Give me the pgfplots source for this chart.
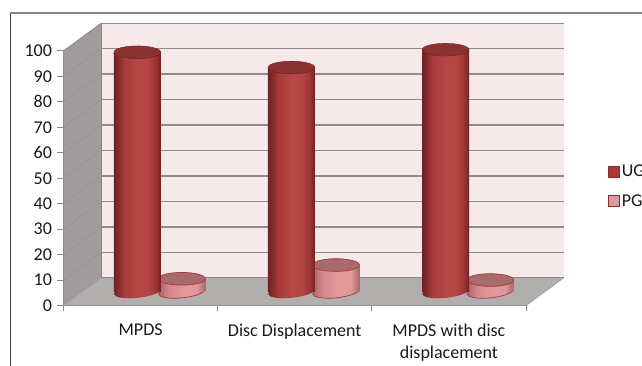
\documentclass[border=0pt]{standalone}
\usepackage{fontspec}
\setmainfont{Carlito}
\usepackage{pgfplots}
\pgfplotsset{compat=1.18}
\definecolor{gridgray}{HTML}{8F8C8C}
\definecolor{axisgray}{HTML}{8A8888}
\definecolor{wallback}{HTML}{F5E9E9}
\definecolor{wallside}{HTML}{A09C9C}
\definecolor{floorgray}{HTML}{B3AEAE}
\definecolor{ugedge}{HTML}{8E2A2A}
\definecolor{ugtop}{HTML}{8A3231}
\definecolor{pgedge}{HTML}{A8383A}
\definecolor{pgtop}{HTML}{A96A6B}
\definecolor{ugA}{HTML}{6F2020}
\definecolor{ugB}{HTML}{A83A3A}
\definecolor{ugC}{HTML}{B54846}
\definecolor{ugD}{HTML}{B34443}
\definecolor{ugE}{HTML}{9A3433}
\definecolor{pgA}{HTML}{A86265}
\definecolor{pgB}{HTML}{D18A8D}
\definecolor{pgC}{HTML}{E3999C}
\definecolor{pgD}{HTML}{E0989B}
\definecolor{pgE}{HTML}{A86466}
\definecolor{legUG}{HTML}{AB3A3A}
\definecolor{legPG}{HTML}{D99C9E}
\pgfdeclarehorizontalshading{ugcyl}{100bp}{
  color(0bp)=(ugA); color(25bp)=(ugA);
  color(36bp)=(ugB); color(50bp)=(ugC);
  color(62bp)=(ugD); color(70bp)=(ugE); color(75bp)=(ugA); color(100bp)=(ugA)}
\pgfdeclarehorizontalshading{pgcyl}{100bp}{
  color(0bp)=(pgA); color(25bp)=(pgA);
  color(36bp)=(pgB); color(52bp)=(pgC);
  color(66bp)=(pgD); color(75bp)=(pgE); color(100bp)=(pgE)}
% shaded lower ends of the cylinders, tilted like their tops
\pgfdeclareplotmark{ugbase}{%
  \pgfpathellipse{\pgfpointorigin}{\pgfqpoint{23.37pt}{2.46pt}}{\pgfqpoint{-0.66pt}{6.3pt}}%
  \pgfshadepath{ugcyl}{0}%
  \pgfusepath{discard}}
\pgfdeclareplotmark{pgbase}{%
  \pgfpathellipse{\pgfpointorigin}{\pgfqpoint{23.37pt}{2.46pt}}{\pgfqpoint{-0.66pt}{6.3pt}}%
  \pgfshadepath{pgcyl}{0}%
  \pgfusepath{stroke}}
\pgfplotsset{
  cyl end/.style={only marks, forget plot, mark=*, mark size=23.5pt},
  cyl body/.style={forget plot, ybar, bar width=47pt, bar shift=0pt, draw=none},
  side wall/.style={forget plot, draw=none},
  pg group/.style={xshift=41.3pt, yshift=14pt},
  ug group/.style={xshift=-3.3pt, yshift=14pt},
}
\begin{document}
\begin{tikzpicture}[x=1pt,y=1pt]
\path[use as bounding box] (0,0) rectangle (642,366);
% chart frame
\draw[line width=0.8pt, black!75] (10,353) -- (10,0);
\draw[line width=1.6pt, black!48] (9.6,353) -- (642,353);
\begin{axis}[
  at={(63.5pt,60.5pt)}, anchor=origin,
  scale only axis, width=462.5pt, height=254.5pt,
  xmin=0, xmax=3, ymin=0, ymax=100,
  clip=false, clip mode=individual,
  axis line style={axisgray, line width=1pt},
  axis x line*=bottom, axis y line*=left,
  xtick={0,1,2,3}, xticklabels={},
  extra x ticks={0.5,1.5,2.5},
  extra x tick labels={MPDS,Disc Displacement,{MPDS with disc\\[1pt]displacement}},
  extra x tick style={major tick length=0pt,
    tick label style={align=center, anchor=north, yshift=-14.5pt}},
  ytick={0,10,...,100},
  tick style={axisgray, line width=1pt},
  major tick length=6pt,
  tick align=outside,
  /pgf/number format/assume math mode=true,
  tick label style={font=\fontsize{18}{21}\selectfont, text=black!90},
  y tick label style={xshift=-2pt},
  legend style={at={(1.177,0.468)}, draw=none, fill=none, anchor=west,
    inner sep=0pt, outer sep=0pt, row sep=12pt,
    font=\fontsize{18}{21}\selectfont, text=black!90},
  legend cell align=left,
  legend image code/.code={\draw[#1] (0pt,-5.5pt) rectangle (11pt,5.5pt);},
]
% walls and floor of the chart box
\addplot[side wall, fill=wallback] coordinates {(0.2445,10.9) (3.2445,10.9) (3.2445,110.9) (0.2445,110.9)} -- cycle;
\addplot[side wall, fill=wallside] coordinates {(0,0) (0.2445,10.9) (0.2445,110.9) (0,100)} -- cycle;
\addplot[side wall, fill=floorgray] coordinates {(0,0) (3,0) (3.2445,10.9) (0.2445,10.9)} -- cycle;
% grid lines on the back wall
\addplot[forget plot, gridgray, line width=1.4pt] table {
0.2445 20.9
3.2445 20.9

0.2445 30.9
3.2445 30.9

0.2445 40.9
3.2445 40.9

0.2445 50.9
3.2445 50.9

0.2445 60.9
3.2445 60.9

0.2445 70.9
3.2445 70.9

0.2445 80.9
3.2445 80.9

0.2445 90.9
3.2445 90.9

0.2445 100.9
3.2445 100.9

0.2445 110.9
3.2445 110.9
};
% grid lines running over the side wall
\addplot[forget plot, black!42, line width=0.7pt] table {
0 10
0.2445 20.9

0 20
0.2445 30.9

0 30
0.2445 40.9

0 40
0.2445 50.9

0 50
0.2445 60.9

0 60
0.2445 70.9

0 70
0.2445 80.9

0 80
0.2445 90.9

0 90
0.2445 100.9
};
% box edges
\addplot[forget plot, axisgray, line width=0.9pt] coordinates {(0,100) (0.2445,110.9)};
\addplot[forget plot, axisgray, line width=0.9pt] coordinates {(0.2445,110.9) (0.2445,10.9)};
\addplot[forget plot, axisgray!80, line width=0.9pt] coordinates {(0,0) (0.2445,10.9)};
\addplot[forget plot, axisgray!80, line width=0.9pt] coordinates {(3,0) (3.2445,10.9)};
\addplot[forget plot, gridgray, line width=0.9pt] coordinates {(0.2445,10.9) (3.2445,10.9)};

% PG cylinders: base, body, top
\addplot[cyl end, pg group, mark=pgbase, mark options={draw=pgedge, line width=0.7pt}]
  coordinates {(0.5,0) (1.5,0) (2.5,0)};
\addplot[cyl body, pg group, shading=pgcyl] coordinates {(0.5,5)};
\addplot[cyl body, pg group, shading=pgcyl] coordinates {(1.5,10.4)};
\addplot[cyl body, pg group, shading=pgcyl] coordinates {(2.5,4.5)};
\addplot[cyl end, pg group, mark options={yscale=0.27, rotate=6, fill=pgtop, draw=pgedge, line width=0.7pt}]
  coordinates {(0.5,5) (1.5,10.4) (2.5,4.5)};

% UG cylinders: base, body, top
\addplot[cyl end, ug group, mark=ugbase]
  coordinates {(0.5,0) (1.5,0) (2.5,0)};
\addplot[cyl body, ug group, shading=ugcyl] coordinates {(0.5,94)};
\addplot[cyl body, ug group, shading=ugcyl] coordinates {(1.5,88)};
\addplot[cyl body, ug group, shading=ugcyl] coordinates {(2.5,95)};
\addplot[cyl end, ug group, mark options={yscale=0.27, rotate=6, fill=ugtop, draw=ugA, line width=0.4pt}]
  coordinates {(0.5,94) (1.5,88) (2.5,95)};

% legend swatches
\addlegendimage{fill=legUG, draw=ugedge, line width=1pt}
\addlegendentry{UG}
\addlegendimage{fill=legPG, draw=ugedge, line width=1pt}
\addlegendentry{PG}
\end{axis}
\end{tikzpicture}
\end{document}
